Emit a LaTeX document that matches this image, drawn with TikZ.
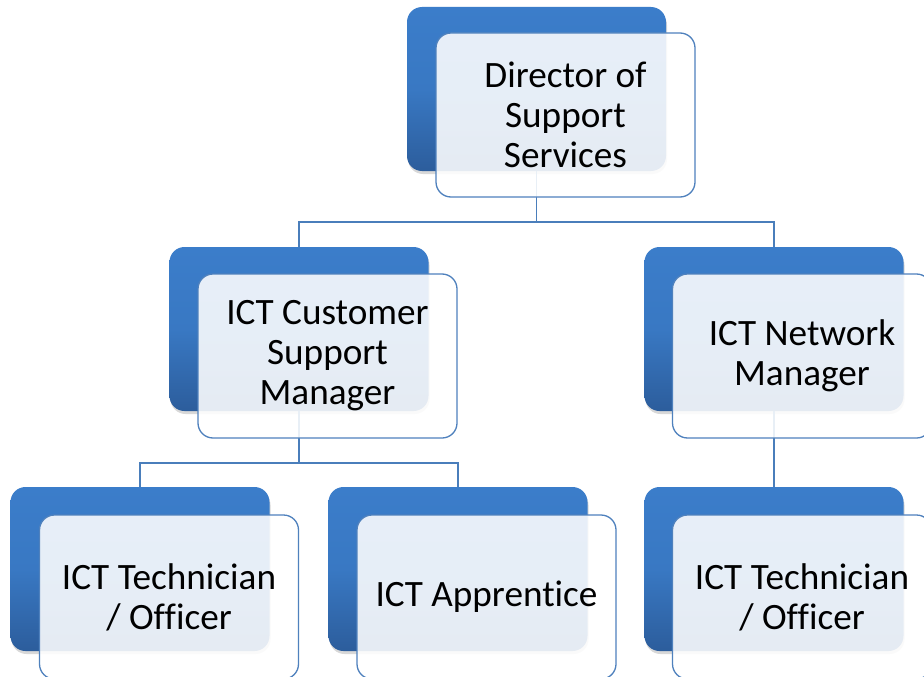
\documentclass[tikz,border=0pt]{standalone}
\usepackage{fontspec}
\setmainfont[Ligatures=NoCommon]{Carlito}
\usetikzlibrary{shadows}
\definecolor{backtop}{RGB}{59,125,202}
\definecolor{backbot}{RGB}{44,93,156}
\definecolor{rim}{RGB}{79,129,189}
\definecolor{wire}{RGB}{74,126,187}
\tikzset{
  backbox/.style={rounded corners=15pt, minimum width=259pt, minimum height=164pt,
    inner sep=0pt, outer sep=0pt, top color=backtop, bottom color=backbot,
    middle color=backtop!85!backbot, draw=none,
    drop shadow={shadow xshift=1pt, shadow yshift=-3pt, opacity=0.25, fill=black!60}},
  frontbox/.style={rounded corners=15pt, minimum width=259pt, minimum height=164pt,
    inner sep=0pt, outer sep=0pt, fill=white, fill opacity=0.88, text opacity=1,
    draw=rim, draw opacity=1, line width=1.3pt, align=center,
    font=\fontsize{37.2}{40}\selectfont},
  wirestyle/.style={draw=wire, line width=1.4pt}
}
\begin{document}
\begin{tikzpicture}[x=1pt,y=-1pt]
\useasboundingbox (0,0) rectangle (924,677);
\fill[white] (0,0) rectangle (924,677);

% back plates
\node[backbox] (dirB) at (536.5,89) {};
\node[backbox] (cmB)  at (299,329) {};
\node[backbox] (nmB)  at (774,329) {};
\node[backbox] (t1B)  at (140,569) {};
\node[backbox] (apB)  at (458,569) {};
\node[backbox] (t2B)  at (774,569) {};

% reporting lines
\coordinate (busA) at (536.5,222);
\coordinate (busB) at (299,463);
\draw[wirestyle] (dirB.south) -- (busA);
\draw[wirestyle] (cmB.north) |- (busA) -| (nmB.north);
\draw[wirestyle] (cmB.south) -- (busB);
\draw[wirestyle] (t1B.north) |- (busB) -| (apB.north);
\draw[wirestyle] (nmB.south) -- (t2B.north);

% labelled cards
\node[frontbox] (dirF) at (565.5,115) {Director of\\Support\\Services};
\node[frontbox] (cmF)  at (327.5,356) {ICT Customer\\Support\\Manager};
\node[frontbox] (nmF)  at (802,356) {ICT Network\\Manager};
\node[frontbox] (t1F)  at (169,597) {ICT Technician\\/ Officer};
\node[frontbox] (apF)  at (486.5,597) {ICT Apprentice};
\node[frontbox] (t2F)  at (802,597) {ICT Technician\\/ Officer};
\end{tikzpicture}
\end{document}
